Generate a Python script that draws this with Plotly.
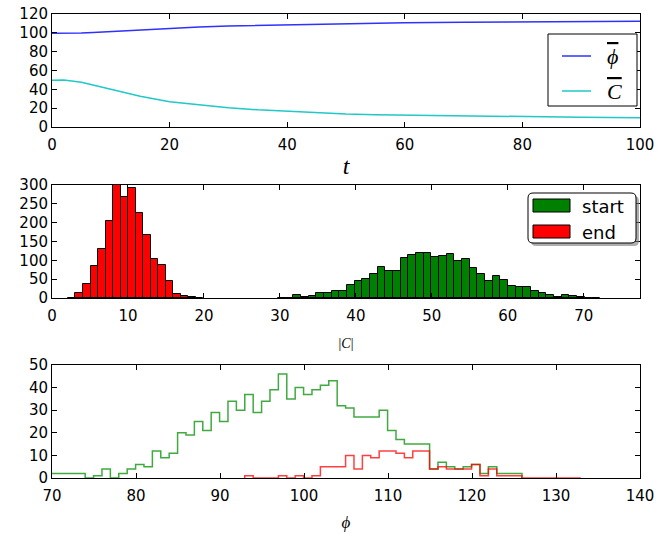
import plotly.graph_objects as go

# ---------------- data ----------------
# top panel: means vs time
t_vals = [0, 2, 5, 7, 10, 15, 20, 25, 30, 35, 40, 45, 50, 55, 60, 70, 80, 90, 100]
phi_mean = [99.5, 99.4, 99.7, 100.3, 101.3, 103.0, 104.8, 106.2, 107.3, 108.0, 108.6, 109.2, 109.9, 110.4, 110.8, 111.2, 111.6, 112.0, 112.4]
C_mean = [49.6, 50.0, 47.6, 44.7, 39.8, 32.7, 26.8, 23.4, 20.4, 18.2, 16.5, 14.9, 13.7, 13.1, 12.6, 11.6, 10.9, 10.3, 9.9]

# middle panel: |C| histograms
C_end_start, C_end_width = 2.1, 0.99
C_end_counts = [1, 13, 38, 86, 129, 204, 310, 267, 292, 225, 166, 104, 88, 45, 11, 6, 3, 1]
C_start_start, C_start_width = 29.73, 1.01
C_start_counts = [1, 1, 7, 2, 4, 13, 13, 19, 19, 35, 44, 50, 64, 81, 73, 73, 106, 115, 119, 119,
                  110, 112, 116, 99, 103, 80, 64, 46, 59, 48, 33, 28, 28, 18, 12, 8, 2, 9, 4, 2, 1, 1]

# bottom panel: phi histograms (step)
phi_start_start, phi_start_width = 65.95, 1.0
phi_start_counts = [2, 2, 2, 2, 2, 2, 2, 2,
                    0, 1, 4, 0, 2, 4, 6, 5, 12, 9, 11, 20, 19, 25, 21, 29, 25, 34, 30, 37, 29, 34,
                    39, 46, 35, 40, 37, 39, 41, 43, 32, 31, 27, 27, 27, 30, 21, 17, 15, 15, 15,
                    4, 7, 5, 4, 5, 6, 2, 5, 2, 2, 2]
phi_end_start, phi_end_width = 92.95, 1.0
phi_end_counts = [1, 0, 0, 0, 1, 0, 1, 0, 1, 5, 5, 5, 10, 4, 10, 9, 12, 12, 11, 9, 12, 12,
                  4, 5, 4, 4, 4, 6, 1, 4, 1, 1, 1, 0, 0, 0, 0, 0, 0, 0]

# ---------------- helpers ----------------
def bar_centers(start, width, counts):
    return [start + width * (i + 0.5) for i in range(len(counts))]

def step_xy(start, width, counts):
    edges = [start + width * i for i in range(len(counts) + 1)]
    xs = [edges[0]] + edges + [edges[-1]]
    ys = [0] + list(counts) + [counts[-1], 0]
    return xs, ys

# ---------------- figure ----------------
W, H = 672, 534
ML, MR, MT, MB = 52, 32, 14, 56
PW, PH = W - ML - MR, H - MT - MB

def py(p):  # pixel y -> paper
    return (H - MB - p) / PH

def pxx(p):  # pixel x -> paper
    return (p - ML) / PW

fig = go.Figure()

fig.add_trace(go.Scatter(x=t_vals, y=phi_mean, mode="lines", line=dict(color="#3030ff", width=1.5),
                         name="phi", xaxis="x", yaxis="y"))
fig.add_trace(go.Scatter(x=t_vals, y=C_mean, mode="lines", line=dict(color="#20c8c8", width=1.5),
                         name="C", xaxis="x", yaxis="y"))

fig.add_trace(go.Bar(x=bar_centers(C_start_start, C_start_width, C_start_counts), y=C_start_counts,
                     width=C_start_width, marker=dict(color="#008000", line=dict(color="black", width=1)),
                     name="start", xaxis="x2", yaxis="y2"))
fig.add_trace(go.Bar(x=bar_centers(C_end_start, C_end_width, C_end_counts), y=C_end_counts,
                     width=C_end_width, marker=dict(color="#ff0000", line=dict(color="black", width=1)),
                     name="end", xaxis="x2", yaxis="y2"))

gx, gy = step_xy(phi_start_start, phi_start_width, phi_start_counts)
fig.add_trace(go.Scatter(x=gx, y=gy, mode="lines", line=dict(color="rgba(0,140,0,0.75)", width=1.5, shape="hv"),
                         xaxis="x3", yaxis="y3", name="start"))
rx, ry = step_xy(phi_end_start, phi_end_width, phi_end_counts)
fig.add_trace(go.Scatter(x=rx, y=ry, mode="lines", line=dict(color="rgba(255,0,0,0.75)", width=1.5, shape="hv"),
                         xaxis="x3", yaxis="y3", name="end"))

tickfont = dict(family="DejaVu Sans", size=15, color="black")
common = dict(showline=True, linecolor="black", linewidth=1, mirror="ticks", ticks="inside",
              ticklen=5, tickcolor="black", showgrid=False, zeroline=False, tickfont=tickfont,
              automargin=False)

fig.update_layout(
    width=W, height=H, margin=dict(l=ML, r=MR, t=MT, b=MB),
    paper_bgcolor="white", plot_bgcolor="white", font=dict(color="black"),
    barmode="overlay", bargap=0, showlegend=False,
    xaxis=dict(domain=[0, 1], anchor="y", range=[0, 100], tickvals=[0, 20, 40, 60, 80, 100],
               ticklabelstandoff=4,
               title=dict(text="<i>t</i>", font=dict(family="Liberation Serif", size=24, color="black"), standoff=4), **common),
    yaxis=dict(domain=[py(127), 1], anchor="x", range=[0, 120], tickvals=[0, 20, 40, 60, 80, 100, 120], **common),
    xaxis2=dict(domain=[0, 1], anchor="y2", range=[0, 77.4], tickvals=[0, 10, 20, 30, 40, 50, 60, 70],
                ticklabelstandoff=4,
                title=dict(text="|<i>C</i>|", font=dict(family="Liberation Serif", size=14, color="black"), standoff=14), **common),
    yaxis2=dict(domain=[py(298), py(185)], anchor="x2", range=[0, 300], tickvals=[0, 50, 100, 150, 200, 250, 300], **common),
    xaxis3=dict(domain=[0, 1], anchor="y3", range=[70, 140], tickvals=[70, 80, 90, 100, 110, 120, 130, 140],
                ticklabelstandoff=4,
                title=dict(text="<i>ϕ</i>", font=dict(family="Liberation Serif", size=17, color="black"), standoff=12), **common),
    yaxis3=dict(domain=[0, py(365)], anchor="x3", range=[0, 50], tickvals=[0, 10, 20, 30, 40, 50], **common),
)

# ---- legends (drawn as shapes + text) ----
def rounded(x0, y0, x1, y1, r):
    X0, X1 = pxx(x0), pxx(x1)
    Y0, Y1 = py(y0), py(y1)
    rx, ry = r / PW, r / PH
    return (f"M{X0+rx},{Y0} L{X1-rx},{Y0} Q{X1},{Y0} {X1},{Y0-ry} L{X1},{Y1+ry} Q{X1},{Y1} {X1-rx},{Y1} "
            f"L{X0+rx},{Y1} Q{X0},{Y1} {X0},{Y1+ry} L{X0},{Y0-ry} Q{X0},{Y0} {X0+rx},{Y0} Z")

shapes = [
    # top legend
    dict(type="rect", xref="paper", yref="paper", x0=pxx(548), x1=pxx(637), y0=py(106), y1=py(34),
         fillcolor="white", line=dict(color="black", width=1)),
    dict(type="line", xref="paper", yref="paper", x0=pxx(562), x1=pxx(591), y0=py(56), y1=py(56),
         line=dict(color="#3030ff", width=1.5)),
    dict(type="line", xref="paper", yref="paper", x0=pxx(562), x1=pxx(591), y0=py(91), y1=py(91),
         line=dict(color="#20c8c8", width=1.5)),
    # middle legend
    dict(type="path", xref="paper", yref="paper", path=rounded(531, 196, 639, 246, 5),
         fillcolor="rgba(120,120,120,0.6)", line=dict(width=0)),
    dict(type="path", xref="paper", yref="paper", path=rounded(528, 193, 636, 243, 5),
         fillcolor="white", line=dict(color="black", width=1)),
    dict(type="rect", xref="paper", yref="paper", x0=pxx(533), x1=pxx(570), y0=py(212), y1=py(199),
         fillcolor="#008000", line=dict(color="black", width=1)),
    dict(type="rect", xref="paper", yref="paper", x0=pxx(533), x1=pxx(570), y0=py(238), y1=py(225),
         fillcolor="#ff0000", line=dict(color="black", width=1)),
]
serif = dict(family="Liberation Serif", size=22, color="black")
annotations = [
    dict(text="<span style='text-decoration:overline'><i>ϕ</i></span>", xref="paper", yref="paper",
         x=pxx(605), y=py(56), xanchor="left", yanchor="middle", showarrow=False, font=serif),
    dict(text="<span style='text-decoration:overline'><i>C</i></span>", xref="paper", yref="paper",
         x=pxx(605), y=py(91), xanchor="left", yanchor="middle", showarrow=False, font=serif),
    dict(text="start", xref="paper", yref="paper", x=pxx(580), y=py(206), xanchor="left", yanchor="middle",
         showarrow=False, font=dict(family="DejaVu Sans", size=18, color="black")),
    dict(text="end", xref="paper", yref="paper", x=pxx(580), y=py(232), xanchor="left", yanchor="middle",
         showarrow=False, font=dict(family="DejaVu Sans", size=18, color="black")),
]
fig.update_layout(shapes=shapes, annotations=annotations)

fig.write_html("out.html")
